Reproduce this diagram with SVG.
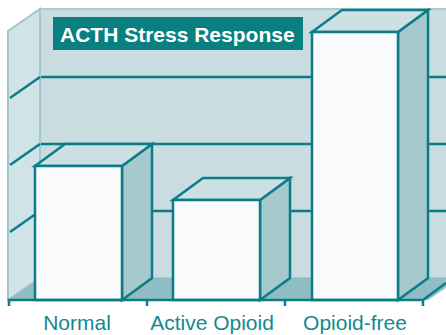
<svg xmlns="http://www.w3.org/2000/svg" width="446" height="335" viewBox="0 0 446 335">
  <style>
    .grid { stroke: #0b7d89; stroke-width: 2.5; fill: none; }
    .bar path, .bar polygon { stroke: #0b7d89; stroke-width: 2.5; stroke-linejoin: miter; }
    .front { fill: #f8fafc; }
    .side { fill: #a6c9cd; }
    .top { fill: #cde0e3; }
    .axis { stroke: #0b7d89; stroke-width: 2.5; fill: none; }
    .label { font-family: "Liberation Sans", Arial, sans-serif; font-size: 21px; fill: #128a90; text-anchor: middle; }
    .title { font-family: "Liberation Sans", Arial, sans-serif; font-size: 21px; font-weight: bold; fill: #ffffff; }
  </style>
  <rect width="446" height="335" fill="#ffffff"/>
  <g id="walls">
    <rect x="40" y="9" width="420" height="269" fill="#c9dde0" stroke="#a8ccd1" stroke-width="2"/>
    <line class="grid" x1="40" y1="77" x2="446" y2="77"/>
    <line class="grid" x1="40" y1="144" x2="446" y2="144"/>
    <line class="grid" x1="40" y1="211" x2="446" y2="211"/>
    <polygon points="8,31 40,9 40,278 8,300" fill="#d0e3e6" stroke="#9fc7cc" stroke-width="2"/>
    <line class="grid" x1="10" y1="98" x2="40" y2="77"/>
    <line class="grid" x1="10" y1="165" x2="40" y2="144"/>
    <line class="grid" x1="10" y1="232" x2="40" y2="211"/>
    <polygon points="8,300 40,278 460,278 428,300" fill="#90bcc3"/>
  </g>
  <g id="bar-normal" class="bar">
    <polygon class="side" points="122,166 152,144 152,278 122,300"/>
    <polygon class="top" points="35,166 65,144 152,144 122,166"/>
    <rect class="front" x="35" y="166" width="87" height="134" stroke="#0b7d89" stroke-width="2.5"/>
  </g>
  <g id="bar-active-opioid" class="bar">
    <polygon class="side" points="260,200 290,178 290,278 260,300"/>
    <polygon class="top" points="173,200 203,178 290,178 260,200"/>
    <rect class="front" x="173" y="200" width="87" height="100" stroke="#0b7d89" stroke-width="2.5"/>
  </g>
  <g id="bar-opioid-free" class="bar">
    <polygon class="side" points="398,32 428,10 428,278 398,300"/>
    <polygon class="top" points="312,32 342,10 428,10 398,32"/>
    <rect class="front" x="312" y="32" width="86" height="268" stroke="#0b7d89" stroke-width="2.5"/>
  </g>
  <g id="axis">
    <line class="axis" x1="8" y1="300" x2="423" y2="300"/>
    <line class="axis" x1="423" y1="300" x2="446" y2="283"/>
    <line class="axis" x1="9" y1="299" x2="9" y2="306"/>
    <line class="axis" x1="147" y1="299" x2="147" y2="306"/>
    <line class="axis" x1="285" y1="299" x2="285" y2="306"/>
    <line class="axis" x1="423" y1="299" x2="423" y2="306"/>
  </g>
  <g id="labels">
    <text class="label" x="77" y="330">Normal</text>
    <text class="label" x="212" y="330">Active Opioid</text>
    <text class="label" x="355" y="330">Opioid-free</text>
  </g>
  <g id="title">
    <rect x="53" y="17" width="250" height="33" fill="#08807f"/>
    <text class="title" x="60" y="42">ACTH Stress Response</text>
  </g>
</svg>
